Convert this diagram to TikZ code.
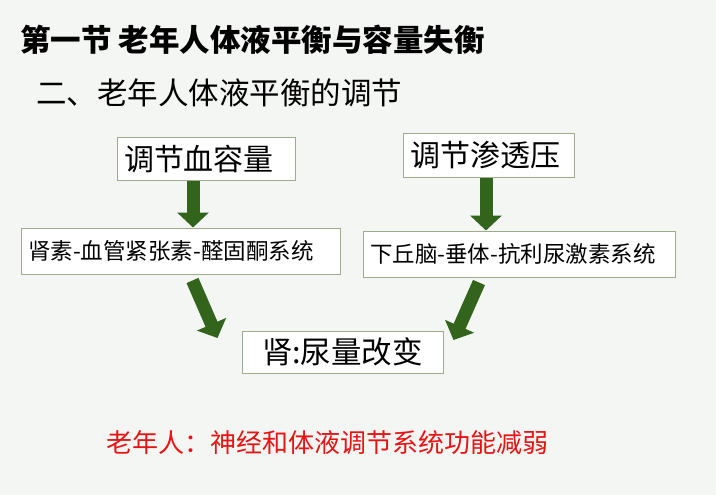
\documentclass[tikz,border=0pt]{standalone}
\usepackage{fontspec}
\newfontfamily\cjk{Noto Sans CJK SC}
\usetikzlibrary{arrows.meta, calc}

\definecolor{bggray}{RGB}{244,246,243}
\definecolor{boxgreen}{RGB}{158,172,140}
\definecolor{arrowgreen}{RGB}{50,100,28}
\definecolor{notered}{RGB}{230,20,20}

\tikzset{
    box/.style={draw=boxgreen, fill=white, line width=1pt, inner xsep=7pt,
        inner ysep=0pt, align=left, font=\cjk},
    fat/.style={draw=arrowgreen, line width=13pt,
        -{Triangle[length=15pt, width=31pt]}},
}

\begin{document}
\begin{tikzpicture}[x=1pt, y=-1pt]
    \fill[bggray] (0,0) rectangle (716,495);
    \useasboundingbox (0,0) rectangle (716,495);

    \node[anchor=west, inner sep=0pt, font=\cjk\bfseries\fontsize{30.5}{36}\selectfont]
        (title) at (20,40) {第一节 老年人体液平衡与容量失衡};
    \node[anchor=west, inner sep=0pt, font=\cjk\fontsize{30.5}{36}\selectfont]
        (sub) at (36,93) {二、老年人体液平衡的调节};

    \node[box, minimum width=178pt, text width=164pt, minimum height=43pt,
        font=\cjk\fontsize{30}{35}\selectfont] (xue) at (206,159) {调节血容量};
    \node[box, minimum width=171pt, text width=157pt, minimum height=43pt,
        font=\cjk\fontsize{30}{35}\selectfont] (sheng) at (488.5,155.5) {调节渗透压};
    \node[box, minimum width=319pt, text width=305pt, minimum height=46pt,
        font=\cjk\fontsize{22.5}{27}\selectfont] (ren) at (180.5,251) {肾素-血管紧张素-醛固酮系统};
    \node[box, minimum width=312pt, text width=298pt, minimum height=46pt,
        font=\cjk\fontsize{22.5}{27}\selectfont] (adh) at (519,254) {下丘脑-垂体-抗利尿激素系统};
    \node[box, minimum width=201pt, minimum height=42pt, align=center,
        font=\cjk\fontsize{30.5}{36}\selectfont] (kidney) at (342.5,352) {肾:尿量改变};

    % fat arrows between the boxes
    \draw[fat] ([xshift=-13pt]xue.south) -- ([xshift=-13pt]xue.south |- ren.north);
    \draw[fat] ([xshift=-2.5pt]sheng.south) -- ([xshift=-2.5pt]sheng.south |- adh.north);
    \draw[fat] ([shift={(12pt,-6pt)}]ren.south) -- ([shift={(-24pt,14pt)}]kidney.west);
    \draw[fat] ([shift={(-40pt,-5pt)}]adh.south) -- ([shift={(10pt,12pt)}]kidney.east);

    \node[anchor=west, inner sep=0pt, text=notered, font=\cjk\fontsize{26}{31}\selectfont]
        (note) at (106,443) {老年人：神经和体液调节系统功能减弱};
\end{tikzpicture}
\end{document}
